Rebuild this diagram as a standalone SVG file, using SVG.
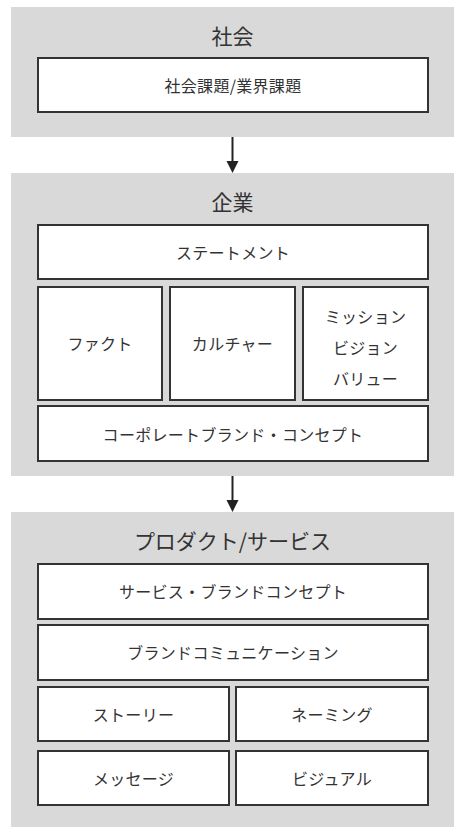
<svg xmlns="http://www.w3.org/2000/svg" width="465" height="839" viewBox="0 0 465 839">
<style>
.grp{fill:#d9d9d9;stroke:none}
.box{fill:#ffffff;stroke:#333333;stroke-width:2}
.t{font-family:"Noto Sans CJK JP","Noto Sans",sans-serif;fill:#333333;text-anchor:middle;dominant-baseline:central}
.title{font-size:21px}
.lbl{font-size:16px;letter-spacing:0.3px}
.conn{stroke:#222222;stroke-width:2;fill:none}
.head{fill:#222222}
</style>
<rect width="465" height="839" fill="#ffffff"/>

<g id="group-society">
<rect class="grp" x="11" y="7" width="443" height="130"/>
<text class="t title" x="232.5" y="35">社会</text>
</g>
<g id="node-issues">
<rect class="box" x="38" y="58" width="390" height="54"/>
<text class="t lbl" x="233" y="85">社会課題/業界課題</text>
</g>

<g id="group-company">
<rect class="grp" x="11" y="173" width="443" height="303"/>
<text class="t title" x="232.5" y="201">企業</text>
</g>
<g id="node-statement">
<rect class="box" x="38" y="225" width="390" height="54"/>
<text class="t lbl" x="233" y="252">ステートメント</text>
</g>
<g id="node-fact">
<rect class="box" x="38" y="287" width="124" height="113"/>
<text class="t lbl" x="100" y="343">ファクト</text>
</g>
<g id="node-culture">
<rect class="box" x="170" y="287" width="125" height="113"/>
<text class="t lbl" x="232.5" y="343">カルチャー</text>
</g>
<g id="node-mvv">
<rect class="box" x="303" y="287" width="125" height="113"/>
<text class="t lbl" x="365.5" y="316">ミッション</text>
<text class="t lbl" x="365.5" y="347">ビジョン</text>
<text class="t lbl" x="365.5" y="378">バリュー</text>
</g>
<g id="node-corporate">
<rect class="box" x="38" y="406" width="390" height="55"/>
<text class="t lbl" x="233" y="434">コーポレートブランド・コンセプト</text>
</g>

<g id="group-product">
<rect class="grp" x="11" y="512" width="443" height="315"/>
<text class="t title" x="232.5" y="540">プロダクト/サービス</text>
</g>
<g id="node-service-concept">
<rect class="box" x="38" y="564" width="390" height="55"/>
<text class="t lbl" x="233" y="591">サービス・ブランドコンセプト</text>
</g>
<g id="node-communication">
<rect class="box" x="38" y="625" width="390" height="55"/>
<text class="t lbl" x="233" y="652">ブランドコミュニケーション</text>
</g>
<g id="node-story">
<rect class="box" x="38" y="687" width="191" height="54"/>
<text class="t lbl" x="133.5" y="714">ストーリー</text>
</g>
<g id="node-naming">
<rect class="box" x="236" y="687" width="192" height="54"/>
<text class="t lbl" x="332" y="714">ネーミング</text>
</g>
<g id="node-message">
<rect class="box" x="38" y="751" width="191" height="54"/>
<text class="t lbl" x="133.5" y="778">メッセージ</text>
</g>
<g id="node-visual">
<rect class="box" x="236" y="751" width="192" height="54"/>
<text class="t lbl" x="332" y="778">ビジュアル</text>
</g>

<g id="connectors">
<line class="conn" x1="232.5" y1="137" x2="232.5" y2="162"/>
<path class="head" d="M226.5,161 L238.5,161 L232.5,173 Z"/>
<line class="conn" x1="232.5" y1="476" x2="232.5" y2="501"/>
<path class="head" d="M226.5,500 L238.5,500 L232.5,512 Z"/>
</g>
</svg>
